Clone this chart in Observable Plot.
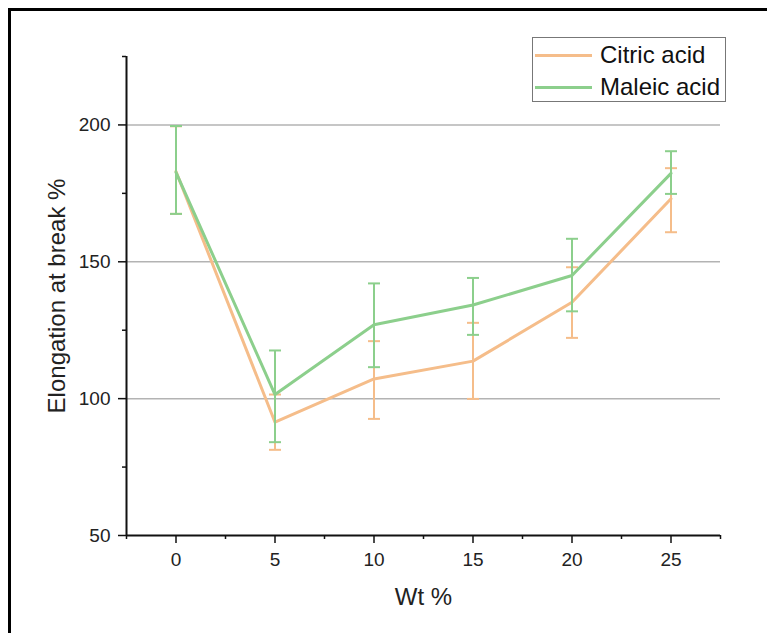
<!DOCTYPE html>
<html>
<head>
<meta charset="utf-8">
<script src="https://cdn.jsdelivr.net/npm/d3@7"></script>
<script src="https://cdn.jsdelivr.net/npm/@observablehq/plot@0.6"></script>
<style>
  html, body { margin: 0; padding: 0; background: #fff; }
  #wrap { position: relative; width: 767px; height: 633px; overflow: hidden; background: #fff;
          font-family: "Liberation Sans", Arial, sans-serif; }
  #frame { position: absolute; left: 8px; top: 8px; width: 900px; height: 800px;
           border-top: 3px solid #000; border-left: 3px solid #000; box-sizing: border-box; pointer-events: none; }
  #chart { position: absolute; left: 0; top: 0; }
  #legend { position: absolute; left: 532px; top: 37px; width: 194px; height: 65px;
            border: 1px solid #777; box-sizing: border-box; background: #fff; }
  .lg-row { position: absolute; left: 0; height: 30px; display: flex; align-items: center; }
  .lg-line { width: 57px; height: 3px; margin-left: 2px; margin-right: 8px; }
  .lg-text { font-size: 24px; color: #111; line-height: 30px; white-space: nowrap; }
</style>
</head>
<body>
<div id="wrap">
  <div id="chart"></div>
  <div id="legend"></div>
  <div id="frame"></div>
</div>
<script>
// ---- data ----
const wt = [0, 5, 10, 15, 20, 25];
const citric   = [183.0, 91.4, 107.2, 113.7, 135.2, 173.0];
const citricLo = [167.5, 81.3, 92.6, 99.9, 122.2, 160.8];
const citricHi = [199.5, 101.5, 121.0, 127.7, 148.0, 184.2];
const maleic   = [182.7, 101.5, 127.0, 134.2, 145.0, 182.3];
const maleicLo = [167.5, 84.1, 111.5, 123.3, 131.9, 174.8];
const maleicHi = [199.6, 117.6, 142.1, 144.1, 158.4, 190.4];

const seriesNames = ["Citric acid", "Maleic acid"];
const seriesColors = ["#f5bd8a", "#8ccf8c"];

const xTicks = [0, 5, 10, 15, 20, 25];
const xMinor = [-2.5, 2.5, 7.5, 12.5, 17.5, 22.5, 27.5];
const yTicks = [50, 100, 150, 200];
const yMinor = [75, 125, 175, 225];
const gridValues = [100, 150, 200];

const xTitle = "Wt %";
const yTitle = "Elongation at break %";

// ---- build table ----
const series = [
  {name: seriesNames[0], color: seriesColors[0], y: citric, lo: citricLo, hi: citricHi},
  {name: seriesNames[1], color: seriesColors[1], y: maleic, lo: maleicLo, hi: maleicHi}
];
const rows = series.flatMap(s => wt.map((x, i) => ({series: s.name, color: s.color, x, y: s.y[i], lo: s.lo[i], hi: s.hi[i]})));

const cap = {draw(ctx) { ctx.moveTo(-6, 0); ctx.lineTo(6, 0); }};

const marks = [
  Plot.ruleY(gridValues, {stroke: "#b3b3b3", strokeWidth: 1.5}),
];
for (const s of series) {
  const d = rows.filter(r => r.series === s.name);
  marks.push(
    Plot.line(d, {x: "x", y: "y", stroke: s.color, strokeWidth: 3}),
    Plot.link(d, {x1: "x", x2: "x", y1: "lo", y2: "hi", stroke: s.color, strokeWidth: 2}),
    Plot.dot(d, {x: "x", y: "lo", symbol: cap, r: 1, stroke: s.color, strokeWidth: 2, fill: "none"}),
    Plot.dot(d, {x: "x", y: "hi", symbol: cap, r: 1, stroke: s.color, strokeWidth: 2, fill: "none"})
  );
}
marks.push(
  Plot.ruleY([50], {stroke: "#111", strokeWidth: 2}),
  Plot.ruleX([-2.5], {stroke: "#111", strokeWidth: 2}),
  Plot.axisX({ticks: xTicks, tickSize: 8, tickPadding: 9, label: null, stroke: "#111", strokeWidth: 1.5, fill: "#222"}),
  Plot.axisX({ticks: xMinor, tickSize: 4, tickFormat: () => "", label: null, stroke: "#111", strokeWidth: 1.5}),
  Plot.axisY({ticks: yTicks, tickSize: 8, tickPadding: 8, label: null, stroke: "#111", strokeWidth: 1.5, fill: "#222"}),
  Plot.axisY({ticks: yMinor, tickSize: 4, tickFormat: () => "", label: null, stroke: "#111", strokeWidth: 1.5}),
  Plot.text([xTitle], {frameAnchor: "bottom", dy: 62, fontSize: 24, fill: "#222", lineAnchor: "middle", textAnchor: "middle"}),
  Plot.text([yTitle], {frameAnchor: "left", dx: -69, rotate: -90, fontSize: 24, fill: "#222", lineAnchor: "middle", textAnchor: "middle"})
);

const chart = Plot.plot({
  width: 767,
  height: 633,
  marginLeft: 126,
  marginRight: 47,
  marginTop: 56,
  marginBottom: 98,
  style: {fontFamily: "'Liberation Sans', Arial, sans-serif", fontSize: "19px", background: "transparent", overflow: "visible"},
  x: {domain: [-2.5, 27.5]},
  y: {domain: [50, 225]},
  marks
});
document.getElementById("chart").appendChild(chart);

// ---- legend ----
const legend = document.getElementById("legend");
series.forEach((s, i) => {
  const row = document.createElement("div");
  row.className = "lg-row";
  row.style.top = (2 + i * 32) + "px";
  const ln = document.createElement("div");
  ln.className = "lg-line";
  ln.style.background = s.color;
  const tx = document.createElement("span");
  tx.className = "lg-text";
  tx.textContent = s.name;
  row.appendChild(ln); row.appendChild(tx);
  legend.appendChild(row);
});
</script>
</body>
</html>
